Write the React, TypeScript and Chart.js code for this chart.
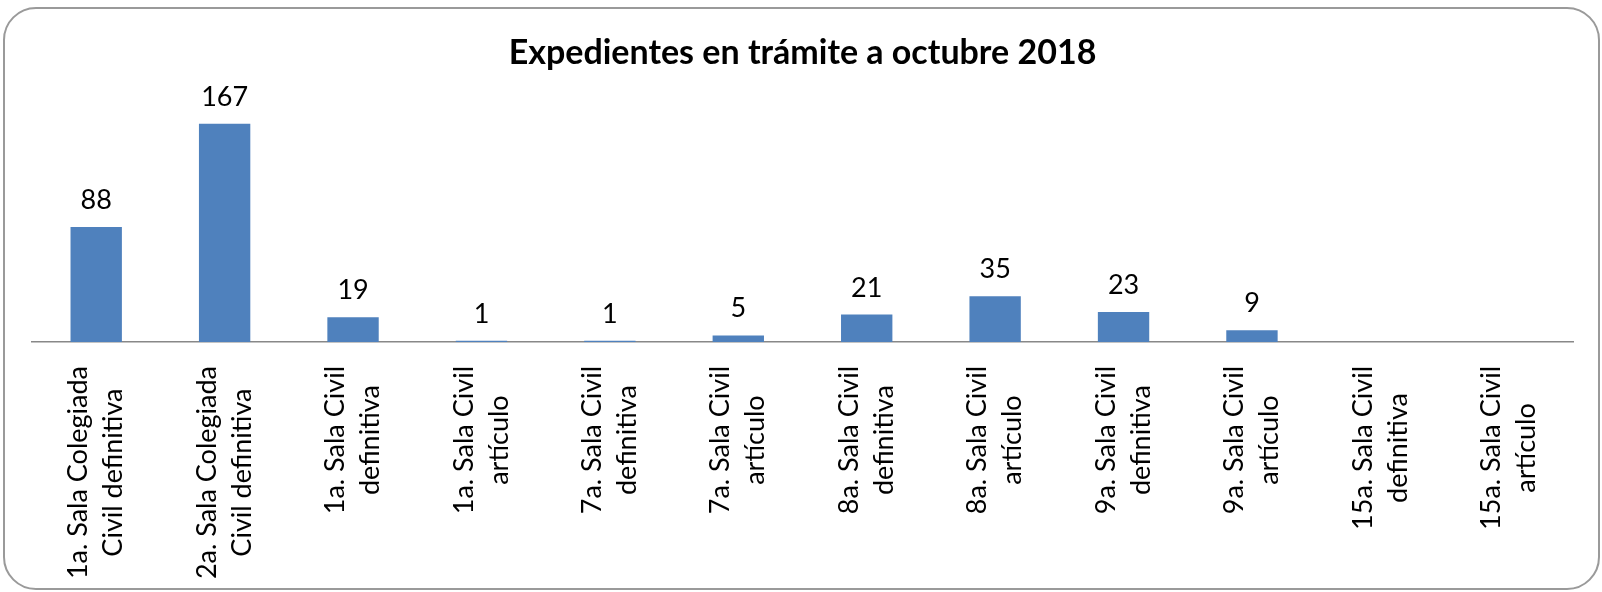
import React, { useEffect, useRef } from "react";
import { Chart, registerables } from "chart.js";

Chart.register(...registerables);

const TITLE = "Expedientes en trámite a octubre 2018";
const categories: string[][] = [
  ["1a. Sala Colegiada", "Civil definitiva"],
  ["2a. Sala Colegiada", "Civil definitiva"],
  ["1a. Sala Civil", "definitiva"],
  ["1a. Sala Civil", "artículo"],
  ["7a. Sala Civil", "definitiva"],
  ["7a. Sala Civil", "artículo"],
  ["8a. Sala Civil", "definitiva"],
  ["8a. Sala Civil", "artículo"],
  ["9a. Sala Civil", "definitiva"],
  ["9a. Sala Civil", "artículo"],
  ["15a. Sala Civil", "definitiva"],
  ["15a. Sala Civil", "artículo"],
];
const values: (number | null)[] = [88, 167, 19, 1, 1, 5, 21, 35, 23, 9, null, null];

const FONT = "Lato";
const BAR_COLOR = "#4F81BD";

const frame = {
  id: "frame",
  beforeDraw(chart: any) {
    const ctx = chart.ctx;
    ctx.save();
    ctx.fillStyle = "#ffffff";
    ctx.fillRect(0, 0, chart.width, chart.height);
    ctx.strokeStyle = "#9a9a9a";
    ctx.lineWidth = 2;
    ctx.beginPath();
    (ctx as any).roundRect(4, 8, 1595, 581, 32);
    ctx.stroke();
    ctx.restore();
  },
};

const labelsPlugin = {
  id: "labelsPlugin",
  afterDatasetsDraw(chart: any) {
    const ctx = chart.ctx;
    const x = chart.scales.x;
    const meta = chart.getDatasetMeta(0);
    ctx.save();
    ctx.fillStyle = "#000";
    // value labels
    ctx.font = `27px ${FONT}`;
    ctx.textAlign = "center";
    ctx.textBaseline = "alphabetic";
    meta.data.forEach((bar: any, i: number) => {
      const v = chart.data.datasets[0].data[i];
      if (v === null || v === undefined) return;
      ctx.fillText(String(v), bar.x, bar.y - 18);
    });
    // category labels, rotated, lines centered
    const labels = chart.data.labels as string[][];
    const top = x.top + 24;
    const lineGap = 35;
    labels.forEach((lines, i) => {
      const cx = x.getPixelForValue(i);
      const w = Math.max(...lines.map((l) => ctx.measureText(l).width));
      ctx.save();
      ctx.translate(cx, top);
      ctx.rotate(-Math.PI / 2);
      ctx.textAlign = "center";
      ctx.textBaseline = "middle";
      lines.forEach((l, k) => {
        const off = (k - (lines.length - 1) / 2) * lineGap;
        ctx.fillText(l, -w / 2, off);
      });
      ctx.restore();
    });
    ctx.restore();
  },
};

export default function App() {
  const ref = useRef<HTMLCanvasElement>(null);
  useEffect(() => {
    if (!ref.current) return;
    const chart = new Chart(ref.current, {
      type: "bar",
      data: {
        labels: categories as any,
        datasets: [
          {
            data: values as any,
            backgroundColor: BAR_COLOR,
            barPercentage: 0.4,
            categoryPercentage: 1,
          },
        ],
      },
      options: {
        animation: false,
        responsive: false,
        layout: { padding: { left: 32, right: 29, top: 0, bottom: 0 } },
        plugins: {
          legend: { display: false },
          tooltip: { enabled: false },
          title: {
            display: true,
            text: TITLE,
            color: "#000",
            font: { family: FONT, size: 34, weight: "bold" },
            padding: { top: 33, bottom: 33 },
          },
        },
        scales: {
          x: {
            grid: { display: false },
            border: { display: true, color: "#888888", width: 1.5 },
            ticks: { display: false },
            afterFit: (s: any) => {
              s.height = 250;
            },
          },
          y: {
            display: false,
            min: 0,
            max: 180,
          },
        },
      },
      plugins: [frame, labelsPlugin],
    });
    return () => chart.destroy();
  }, []);
  return (
    <div style={{ position: "fixed", left: 0, top: 0, width: 1602, height: 592 }}>
      <canvas ref={ref} width={1602} height={592} />
    </div>
  );
}
